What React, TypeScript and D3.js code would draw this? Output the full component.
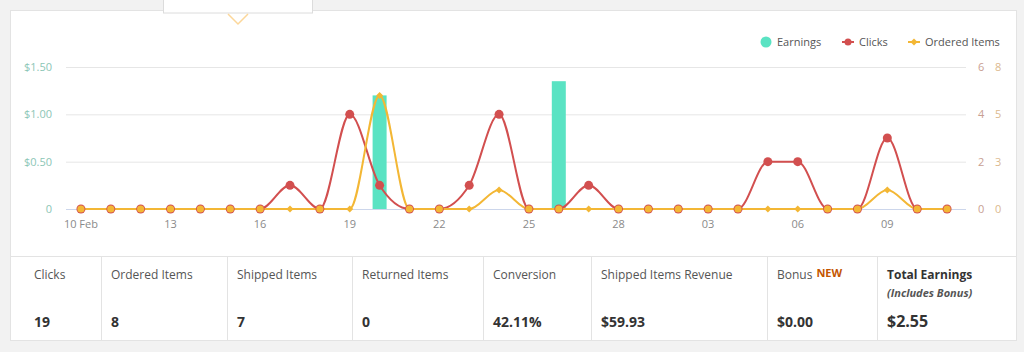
import React from "react";
import * as d3 from "d3";

const dates = [
  "2019-02-10","2019-02-11","2019-02-12","2019-02-13","2019-02-14","2019-02-15","2019-02-16",
  "2019-02-17","2019-02-18","2019-02-19","2019-02-20","2019-02-21","2019-02-22","2019-02-23",
  "2019-02-24","2019-02-25","2019-02-26","2019-02-27","2019-02-28","2019-03-01","2019-03-02",
  "2019-03-03","2019-03-04","2019-03-05","2019-03-06","2019-03-07","2019-03-08","2019-03-09",
  "2019-03-10","2019-03-11",
];
const clicks = [0,0,0,0,0,0,0,1,0,4,1,0,0,1,4,0,0,1,0,0,0,0,0,2,2,0,0,3,0,0];
const ordered = [0,0,0,0,0,0,0,0,0,0,6,0,0,0,1,0,0,0,0,0,0,0,0,0,0,0,0,1,0,0];
const earnings = [0,0,0,0,0,0,0,0,0,0,1.2,0,0,0,0,0,1.35,0,0,0,0,0,0,0,0,0,0,0,0,0];

const xTickDates = ["2019-02-10","2019-02-13","2019-02-16","2019-02-19","2019-02-22","2019-02-25","2019-02-28","2019-03-03","2019-03-06","2019-03-09"];
const xTickLabels = ["10 Feb","13","16","19","22","25","28","03","06","09"];
const earnTicks = [0, 0.5, 1.0, 1.5];
const earnTickLabels = ["0", "$0.50", "$1.00", "$1.50"];
const clickTicks = [0, 2, 4, 6];
const orderTicks = [0, 2.5, 5, 7.5];
const orderTickLabels = ["0", "3", "5", "8"];

const statLabels = ["Clicks","Ordered Items","Shipped Items","Returned Items","Conversion","Shipped Items Revenue","Bonus","Total Earnings"];
const statValues = ["19","8","7","0","42.11%","$59.93","$0.00","$2.55"];

const C_EARN = "#5ae3c3";
const C_CLICK = "#d24f4f";
const C_ORDER = "#f3b735";
const FONT = "'Open Sans', 'Noto Sans', sans-serif";

export default function App() {
  const x = d3.scalePoint<string>().domain(dates).range([66, 962]).padding(0.5);
  const yE = d3.scaleLinear().domain([0, 1.5]).range([209, 67]);
  const yC = d3.scaleLinear().domain([0, 6]).range([209, 67]);
  const yO = d3.scaleLinear().domain([0, 7.5]).range([209, 67]);

  const clickLine = d3.line<number>().x((_, i) => x(dates[i])!).y((d) => yC(d)).curve(d3.curveMonotoneX);
  const orderLine = d3.line<number>().x((_, i) => x(dates[i])!).y((d) => yO(d)).curve(d3.curveMonotoneX);

  const colEdges = [10, 101, 227, 352, 483, 591, 767, 877, 1017];
  const diamond = (cx: number, cy: number, r: number) =>
    `M${cx},${cy - r}L${cx + r},${cy}L${cx},${cy + r}L${cx - r},${cy}Z`;

  return (
    <div style={{ position: "absolute", left: 0, top: 0, width: 1024, height: 352 }}>
      <svg width={1024} height={352} style={{ display: "block", fontFamily: FONT }}>
        <rect x={0} y={0} width={1024} height={352} fill="#f2f2f2" />
        <rect x={10.5} y={10.5} width={1006} height={330} fill="#fff" stroke="#e3e3e3" />
        {/* tooltip remnant */}
        <rect x={163.5} y={-4} width={149} height={17} fill="#fff" stroke="#dcdcdc" />
        <polyline points="228,14 238,24 248,14" fill="none" stroke="#fcd79a" strokeWidth={1.5} />

        {/* gridlines */}
        {earnTicks.map((t, i) => (
          <line key={i} x1={66} x2={966} y1={yE(t) + 0.5} y2={yE(t) + 0.5} stroke={i === 0 ? "#ccd6eb" : "#e6e6e6"} />
        ))}
        {/* left axis */}
        {earnTicks.map((t, i) => (
          <text key={i} x={52} y={yE(t) + 4} textAnchor="end" fontSize={11} fill="#8cc6b6">{earnTickLabels[i]}</text>
        ))}
        {/* right axes */}
        {clickTicks.map((t, i) => (
          <text key={i} x={978} y={yC(t) + 4} textAnchor="start" fontSize={11} fill="#c8a093">{t}</text>
        ))}
        {orderTicks.map((t, i) => (
          <text key={i} x={995} y={yO(t) + 4} textAnchor="start" fontSize={11} fill="#dcb98e">{orderTickLabels[i]}</text>
        ))}
        {/* x axis labels */}
        {xTickDates.map((d, i) => (
          <text key={d} x={x(d)!} y={228} textAnchor="middle" fontSize={11} fill="#8a8a8a">{xTickLabels[i]}</text>
        ))}

        {/* bars */}
        {earnings.map((v, i) =>
          v > 0 ? (
            <rect key={i} x={x(dates[i])! - 7} y={yE(v)} width={14} height={yE(0) - yE(v)} fill={C_EARN} />
          ) : null
        )}
        {/* lines */}
        <path d={clickLine(clicks)!} fill="none" stroke={C_CLICK} strokeWidth={2} />
        <path d={orderLine(ordered)!} fill="none" stroke={C_ORDER} strokeWidth={2} />
        {/* markers */}
        {clicks.map((v, i) => (
          <circle key={i} cx={x(dates[i])!} cy={yC(v)} r={4.5} fill={C_CLICK} />
        ))}
        {ordered.map((v, i) =>
          v === 0 && clicks[i] === 0 ? (
            <circle key={i} cx={x(dates[i])!} cy={yO(v)} r={3.6} fill={C_ORDER} />
          ) : (
            <path key={i} d={diamond(x(dates[i])!, yO(v), 3.5)} fill={C_ORDER} />
          )
        )}

        {/* legend */}
        <circle cx={766} cy={42} r={5.5} fill={C_EARN} />
        <text x={777} y={46} fontSize={11} fill="#555">Earnings</text>
        <line x1={842} x2={854} y1={42} y2={42} stroke={C_CLICK} strokeWidth={2} />
        <circle cx={848} cy={42} r={3.5} fill={C_CLICK} />
        <text x={859} y={46} fontSize={11} fill="#555">Clicks</text>
        <line x1={908} x2={920} y1={42} y2={42} stroke={C_ORDER} strokeWidth={2} />
        <path d={diamond(914, 42, 3.5)} fill={C_ORDER} />
        <text x={925} y={46} fontSize={11} fill="#555">Ordered Items</text>

        {/* stats table */}
        <line x1={10} x2={1017} y1={256.5} y2={256.5} stroke="#e3e3e3" />
        {colEdges.slice(1, -1).map((e) => (
          <line key={e} x1={e + 0.5} x2={e + 0.5} y1={256} y2={341} stroke="#e3e3e3" />
        ))}
        {statLabels.map((l, i) => {
          const lx = i === 0 ? 34 : colEdges[i] + 10;
          const isTotal = i === statLabels.length - 1;
          return (
            <g key={l}>
              <text x={lx} y={279} fontSize={12} fill={isTotal ? "#333" : "#555"} fontWeight={isTotal ? 700 : 400}>
                {l}
                {l === "Bonus" ? (
                  <tspan dx={4} dy={-2} fontSize={11} fontWeight={700} fill="#c45500">NEW</tspan>
                ) : null}
              </text>
              {isTotal ? (
                <text x={lx} y={297} fontSize={11} fontStyle="italic" fontWeight={700} fill="#555">(Includes Bonus)</text>
              ) : null}
              <text x={lx} y={isTotal ? 327 : 327} fontSize={isTotal ? 16 : 14} fontWeight={700} fill="#333">{statValues[i]}</text>
            </g>
          );
        })}
      </svg>
    </div>
  );
}
